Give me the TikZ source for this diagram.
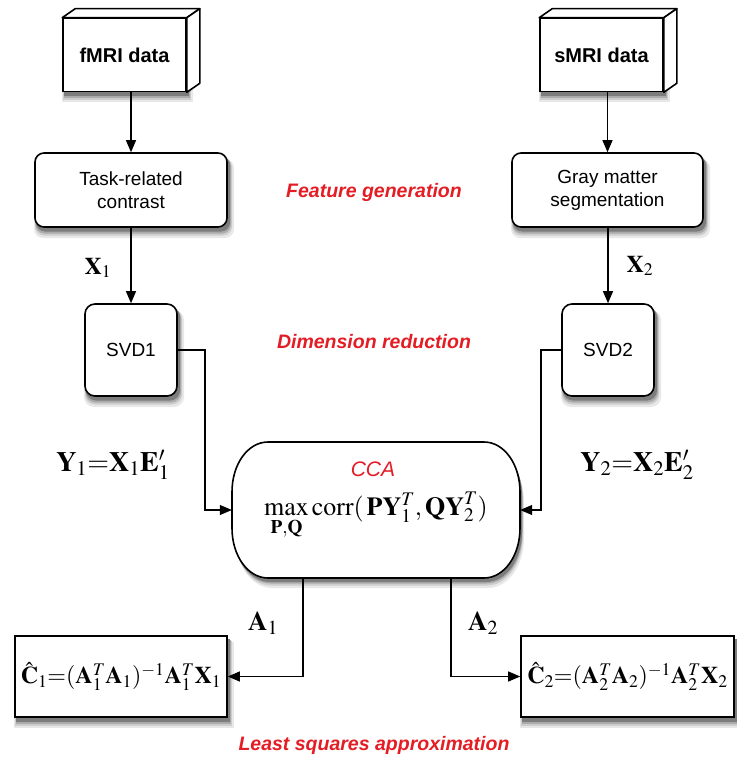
\documentclass[tikz,border=0pt]{standalone}
\usepackage{mathptmx}
\usepackage[no-math]{fontspec}
\newfontfamily\helv{Liberation Sans}
\usetikzlibrary{arrows.meta,calc}
\definecolor{lblred}{RGB}{228,28,36}
\definecolor{sh1}{RGB}{232,232,232}
\definecolor{sh2}{RGB}{205,205,205}
\definecolor{sh3}{RGB}{170,170,170}
\definecolor{sh4}{RGB}{125,125,125}
\tikzset{
  box/.style={draw, line width=1.6pt, fill=white, align=center,
              font=\helv\fontsize{19}{23}\selectfont, inner sep=0pt},
  rbox/.style={box, rounded corners=9pt},
  arr/.style={line width=1.1pt, -{Triangle[length=12pt,width=10pt]}},
  lbl/.style={text=lblred, font=\helv\bfseries\itshape\fontsize{19.5}{23}\selectfont},
  eq/.style={font=\fontsize{24}{28}\selectfont, inner sep=0pt},
}
% soft shadow below a box given by its corners (pixel coords, y down) and corner radius
\newcommand\shbox[5]{%
  \path[fill=sh1, rounded corners=#5] (#1-1,#2+6) rectangle (#3+7,#4+11);
  \path[fill=sh2, rounded corners=#5] (#1,#2+5) rectangle (#3+5,#4+8.5);
  \path[fill=sh3, rounded corners=#5] (#1+0.5,#2+4) rectangle (#3+4,#4+6.5);
  \path[fill=sh4, rounded corners=#5] (#1+1,#2+3) rectangle (#3+3,#4+4.5);
}
\newcommand\ccapath{(268,442) -- (484,442) .. controls +(20pt,0) and +(0,28pt) .. (520,492)
  -- (520,528) .. controls +(0,-28pt) and +(20pt,0) .. (484,578)
  -- (268,578) .. controls +(-20pt,0) and +(0,-28pt) .. (232,528)
  -- (232,492) .. controls +(0,28pt) and +(-20pt,0) .. (268,442) -- cycle}
\begin{document}
\begin{tikzpicture}[x=1pt,y=-1pt]
\useasboundingbox (0,0) rectangle (736,762);

% shadows
\shbox{63}{18.5}{186}{91.5}{0pt}
\shbox{540}{18.5}{663}{91.5}{0pt}
\shbox{35}{153}{227}{227}{9pt}
\shbox{512}{153}{703}{227}{9pt}
\shbox{85}{304}{177}{396}{10pt}
\shbox{562}{304}{654}{396}{10pt}
\shbox{15}{636}{227}{717}{0pt}
\shbox{521}{636}{734}{717}{0pt}
\path[fill=sh1, shift={(4,10)}] \ccapath;
\path[fill=sh2, shift={(3,7.5)}] \ccapath;
\path[fill=sh3, shift={(2.5,5.5)}] \ccapath;
\path[fill=sh4, shift={(2,4)}] \ccapath;

% 3D data boxes
\node[box, minimum width=123pt, minimum height=73pt, font=\helv\bfseries\fontsize{20}{24}\selectfont] (fmri) at (124.5,55) {fMRI data};
\draw[line width=1.6pt, fill=white, line join=round] (fmri.north west) -- ++(13pt,9pt) -- ([shift={(13pt,9pt)}]fmri.north east) -- (fmri.north east) -- cycle;
\draw[line width=1.6pt, fill=white, line join=round] (fmri.north east) -- ++(13pt,9pt) -- ([shift={(13pt,9pt)}]fmri.south east) -- (fmri.south east) -- cycle;

\node[box, minimum width=123pt, minimum height=73pt, font=\helv\bfseries\fontsize{20}{24}\selectfont] (smri) at (601.5,55) {sMRI data};
\draw[line width=1.6pt, fill=white, line join=round] (smri.north west) -- ++(13pt,9pt) -- ([shift={(13pt,9pt)}]smri.north east) -- (smri.north east) -- cycle;
\draw[line width=1.6pt, fill=white, line join=round] (smri.north east) -- ++(13pt,9pt) -- ([shift={(13pt,9pt)}]smri.south east) -- (smri.south east) -- cycle;

% feature boxes
\node[rbox, minimum width=192pt, minimum height=74pt] (task) at (131,190) {Task-related\\contrast};
\node[rbox, minimum width=191pt, minimum height=74pt] (gray) at (607.5,190) {Gray matter\\segmentation};

% SVD boxes
\node[rbox, minimum width=92pt, minimum height=92pt, rounded corners=10pt] (svd1) at (131,350) {SVD1};
\node[rbox, minimum width=92pt, minimum height=92pt, rounded corners=10pt] (svd2) at (608,350) {SVD2};

% CCA
\node[minimum width=288pt, minimum height=136pt, inner sep=0pt] (cca) at (376,510) {};
\draw[line width=1.6pt, fill=white] \ccapath;
\node[text=lblred, font=\helv\itshape\fontsize{21}{25}\selectfont] (ccat) at (373,469) {CCA};
\node[eq, font=\fontsize{26}{30}\selectfont] (ccaf) at (376,516) {$\max\limits_{\mathbf{P},\mathbf{Q}}\mathrm{corr}(\,\mathbf{PY}_1^T,\mathbf{QY}_2^T)$};

% result boxes
\node[box, minimum width=212pt, minimum height=81pt] (c1) at (121,676.5) {};
\node[box, minimum width=213pt, minimum height=81pt] (c2) at (627.5,676.5) {};
\node[eq] (c1t) at (c1) {$\hat{\mathbf{C}}_1{=}(\mathbf{A}_1^T\mathbf{A}_1)^{-1}\mathbf{A}_1^T\mathbf{X}_1$};
\node[eq] (c2t) at (c2) {$\hat{\mathbf{C}}_2{=}(\mathbf{A}_2^T\mathbf{A}_2)^{-1}\mathbf{A}_2^T\mathbf{X}_2$};

% labels
\node[lbl] (fg) at (374,192) {Feature generation};
\node[lbl] (dr) at (374,342) {Dimension reduction};
\node[lbl] (ls) at (374,745) {Least squares approximation};
\node[eq] (x1) at (98,268) {$\mathbf{X}_1$};
\node[eq] (x2) at (640,266) {$\mathbf{X}_2$};
\node[eq, font=\fontsize{28}{32}\selectfont] (y1) at (113,465) {$\mathbf{Y}_1{=}\mathbf{X}_1\mathbf{E}'_1$};
\node[eq, font=\fontsize{28}{32}\selectfont] (y2) at (637,465) {$\mathbf{Y}_2{=}\mathbf{X}_2\mathbf{E}'_2$};
\node[eq, font=\fontsize{27}{31}\selectfont] (a1) at (263,623) {$\mathbf{A}_1$};
\node[eq, font=\fontsize{27}{31}\selectfont] (a2) at (483,623) {$\mathbf{A}_2$};

% connectors
\draw[arr] (fmri.south -| task.north) -- (task.north);
\draw[arr] (smri.south -| gray.north) -- (gray.north);
\draw[arr] (task.south) -- (svd1.north);
\draw[arr] (gray.south -| svd2.north) -- (svd2.north);
\coordinate (j1) at (205,0);
\coordinate (j2) at (541,0);
\draw[arr] (svd1.east) -- (svd1.east -| j1) -- (j1 |- cca.west) -- (cca.west);
\draw[arr] (svd2.west) -- (svd2.west -| j2) -- (j2 |- cca.east) -- (cca.east);
\coordinate (k1) at (303,0);
\coordinate (k2) at (451,0);
\draw[arr] (k1 |- cca.south) -- (k1 |- c1.east) -- (c1.east);
\draw[arr] (k2 |- cca.south) -- (k2 |- c2.west) -- (c2.west);
\end{tikzpicture}
\end{document}
